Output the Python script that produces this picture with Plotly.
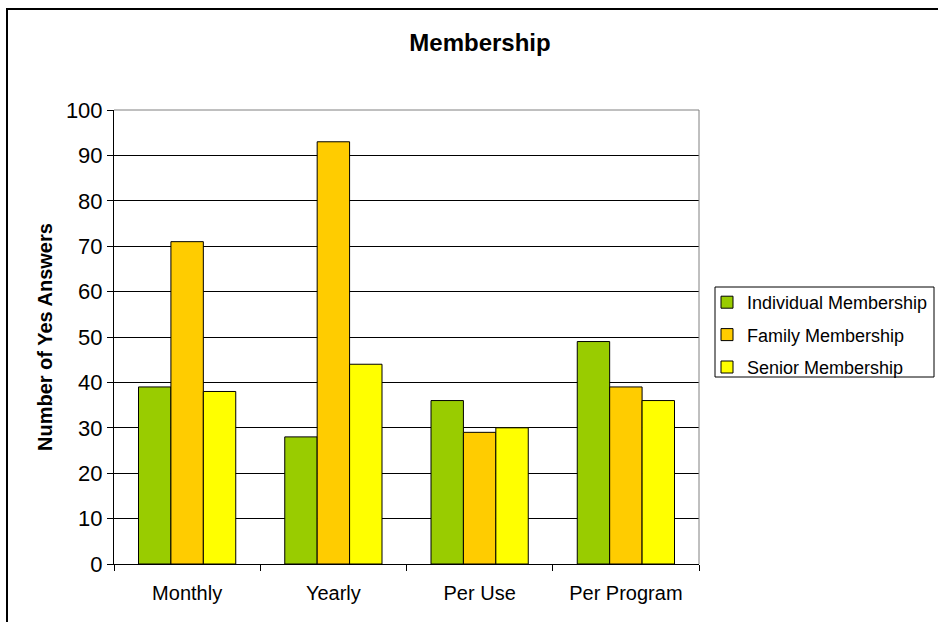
import plotly.graph_objects as go

categories = ["Monthly", "Yearly", "Per Use", "Per Program"]
individual = [39, 28, 36, 49]
family = [71, 93, 29, 39]
senior = [38, 44, 30, 36]
series_names = ["Individual Membership", "Family Membership", "Senior Membership"]
colors = ["#99CC00", "#FFCC00", "#FFFF00"]
y_ticks = list(range(0, 101, 10))

FONT = "Liberation Sans, Arial, sans-serif"

fig = go.Figure()
for i, (name, vals, col) in enumerate(zip(series_names, [individual, family, senior], colors)):
    fig.add_trace(go.Bar(
        x=categories, y=vals, name=name, legendgroup=f"g{i}",
        marker=dict(color=col, line=dict(color="black", width=1)),
    ))

W, H = 938, 622
L, R, T, B = 114, 239, 110, 58
pw, ph = W - L - R, H - T - B

def px_x(x):
    return (x - L) / pw

def px_y(y):
    return (H - B - y) / ph

fig.update_layout(
    width=W, height=H,
    margin=dict(l=L, r=R, t=T, b=B, autoexpand=False),
    paper_bgcolor="white", plot_bgcolor="white",
    barmode="group", bargap=0.335, bargroupgap=0,
    font=dict(family=FONT, size=19, color="black"),
    title=dict(text="<b>Membership</b>", x=480 / W, xanchor="center",
               y=1 - 43 / H, yanchor="middle",
               font=dict(family=FONT, size=24, color="black")),
    showlegend=True,
    legend=dict(x=px_x(707), y=px_y(284), xanchor="left", yanchor="top",
                borderwidth=0, bgcolor="rgba(0,0,0,0)",
                font=dict(family=FONT, size=18, color="black"),
                itemwidth=30, tracegroupgap=6),
    xaxis=dict(showgrid=False, showline=True, linecolor="black", linewidth=1,
               ticks="outside", tickson="boundaries", ticklen=6, tickcolor="black",
               ticklabelstandoff=11, tickfont=dict(family=FONT, size=20)),
    yaxis=dict(range=[0, 100], tickvals=y_ticks, showgrid=True, gridcolor="black",
               gridwidth=1, showline=True, linecolor="black", linewidth=1,
               ticks="outside", ticklen=6, tickcolor="black", zeroline=False,
               tickfont=dict(family=FONT, size=22)),
    annotations=[dict(text="<b>Number of Yes Answers</b>", textangle=-90,
                      xref="paper", yref="paper", x=px_x(45), y=0.5,
                      showarrow=False, xanchor="center", yanchor="middle",
                      font=dict(family=FONT, size=20, color="black"))],
    shapes=[
        dict(type="rect", xref="paper", yref="paper", x0=px_x(7), y0=px_y(640),
             x1=px_x(960), y1=px_y(9), line=dict(color="black", width=2), layer="above"),
        dict(type="line", xref="paper", yref="paper", x0=0, x1=1, y0=1, y1=1,
             line=dict(color="#808080", width=1), layer="above"),
        dict(type="line", xref="paper", yref="paper", x0=1, x1=1, y0=0, y1=1,
             line=dict(color="#808080", width=1), layer="above"),
        dict(type="rect", xref="paper", yref="paper", x0=px_x(715), x1=px_x(934),
             y0=px_y(377), y1=px_y(287), line=dict(color="black", width=1), layer="below"),
    ],
)

fig.write_html(
    "out.html",
    config={"displayModeBar": False},
    post_script="document.body.style.margin='0';document.body.style.overflow='hidden';",
)
